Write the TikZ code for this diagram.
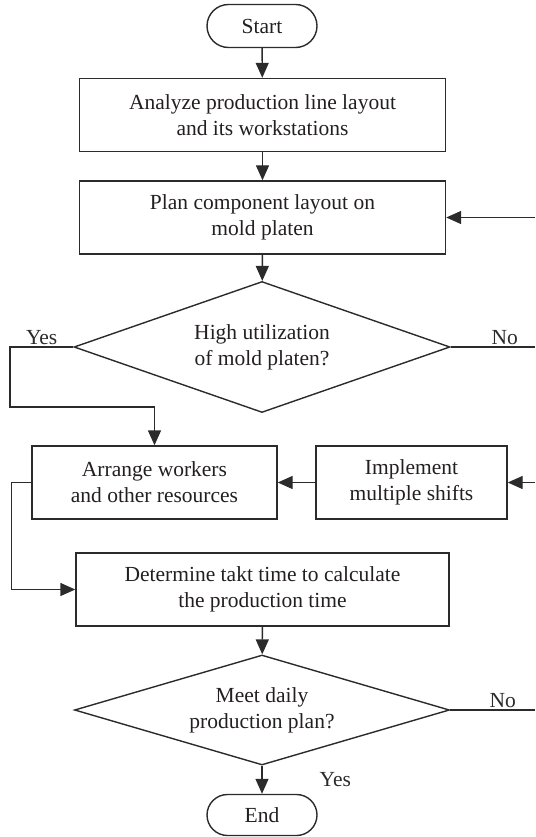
\documentclass[tikz,border=0pt]{standalone}
\usepackage{fontspec}
\setmainfont{Liberation Serif}
\usetikzlibrary{positioning,arrows.meta,shapes.geometric,shapes.misc}
\definecolor{linec}{HTML}{2B2B2B}
\definecolor{textc}{HTML}{231F20}

\begin{document}
\begin{tikzpicture}[
  x=1pt, y=-1pt,
  font=\fontsize{21.5}{26}\selectfont, text=textc,
  >={Triangle[length=15pt,width=13pt]},
  term/.style={draw=linec, line width=1.4pt, rounded rectangle,
               minimum width=110pt, minimum height=43pt, inner sep=0pt},
  proc/.style={draw=linec, line width=1.4pt, rectangle,
               minimum height=73pt, align=center, inner sep=0pt},
  dec/.style={draw=linec, line width=1.4pt, diamond, align=center, inner sep=0pt},
  lbl/.style={inner sep=2pt},
  flow/.style={line width=1.4pt, color=linec},
]
\useasboundingbox (0,0) rectangle (535,837);

\node[term] (start) at (262,26) {Start};
\node[proc, minimum width=366pt] (analyze) at (262.5,115)
  {Analyze production line layout\\and its workstations};
\node[proc, minimum width=366pt] (plan) at (262.5,217.5)
  {Plan component layout on\\mold platen};
\node[dec, minimum width=376pt, minimum height=131pt, aspect=2.87] (util) at (262,347)
  {High utilization\\of mold platen?};
\node[proc, minimum width=245pt] (arrange) at (154.5,482.5)
  {Arrange workers\\and other resources};
\node[proc, minimum width=191pt] (shifts) at (411.5,482.5)
  {Implement\\multiple shifts};
\node[proc, minimum width=373pt] (takt) at (262.5,589.5)
  {Determine takt time to calculate\\the production time};
\node[dec, minimum width=375pt, minimum height=110pt, aspect=3.4] (meet) at (262,710)
  {Meet daily\\production plan?};
\node[term, minimum height=41pt] (end) at (262,815) {End};

% loose ends at the right border
\coordinate (noA)  at (535,347);
\coordinate (backA) at (535,217.5);
\coordinate (backB) at (535,482.5);
\coordinate (noB)  at (535,710);
\coordinate (yesL) at (10,407);

\draw[flow,->] (start) -- (analyze);
\draw[flow,->] (analyze) -- (plan);
\draw[flow,->] (plan) -- (util);
\draw[flow,->] (util.west) -- node[lbl,above]{Yes} (util.west -| yesL) -- (yesL) -| (arrange.north);
\draw[flow] (util.east) -- node[lbl,above,pos=0.64]{No} (noA);
\draw[flow,->] (backA) -- (plan.east);
\draw[flow,->] (backB) -- (shifts.east);
\draw[flow,->] (shifts) -- (arrange);
\draw[flow,->] (arrange.west) -- ++(-20,0) |- (takt.west);
\draw[flow,->] (takt) -- (meet);
\draw[flow] (meet.east) -- node[lbl,above,pos=0.62]{No} (noB);
\draw[flow,->] (meet) -- node[lbl,right=55pt]{Yes} (end);
\end{tikzpicture}
\end{document}
